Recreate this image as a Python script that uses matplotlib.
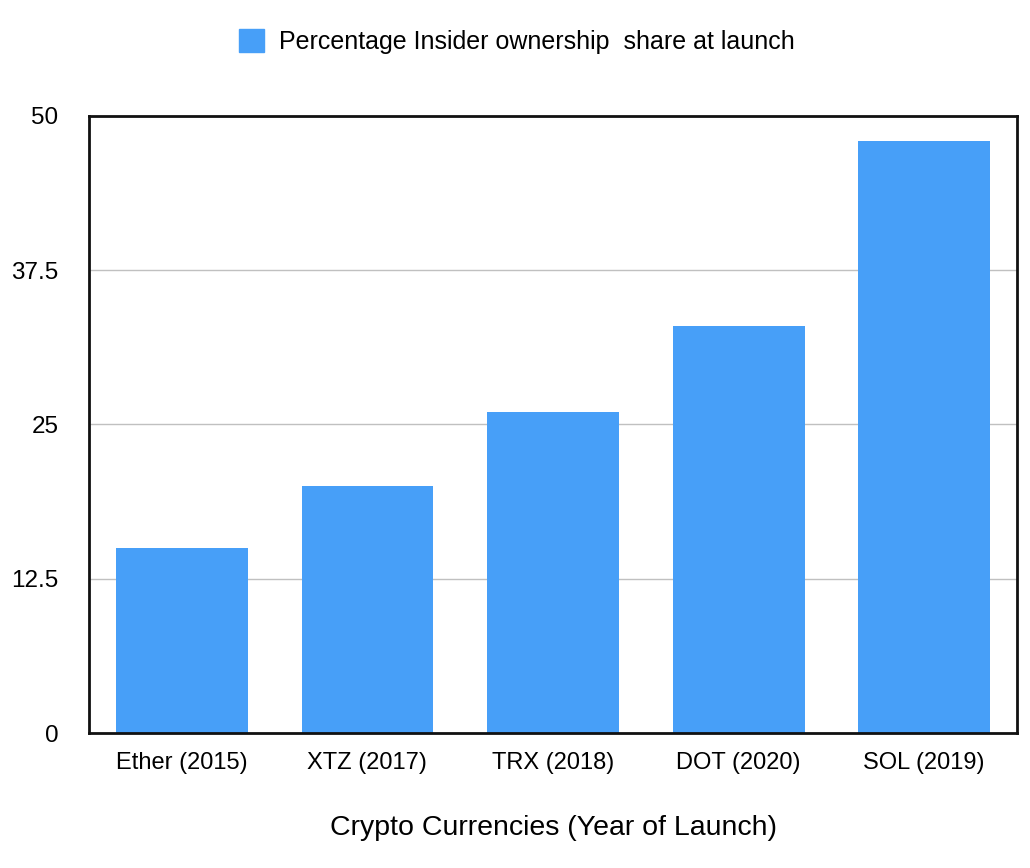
import matplotlib
matplotlib.use("Agg")
import matplotlib.pyplot as plt
from matplotlib.patches import Patch

categories = ["Ether (2015)", "XTZ (2017)", "TRX (2018)", "DOT (2020)", "SOL (2019)"]
values = [15, 20, 26, 33, 48]
yticks = [0, 12.5, 25, 37.5, 50]
ytick_labels = ["0", "12.5", "25", "37.5", "50"]
series_name = "Percentage Insider ownership  share at launch"
xlabel = "Crypto Currencies (Year of Launch)"

plt.rcParams['font.family'] = ['Liberation Sans', 'DejaVu Sans']
color = "#479ff8"

fig = plt.figure(figsize=(10.30, 8.68), dpi=100)
ax = fig.add_axes([0.0864, 0.1555, 0.9010, 0.7109])

x = list(range(len(categories)))
ax.bar(x, values, width=0.71, color=color, zorder=3)
ax.set_xlim(-0.5, len(categories) - 0.5)
ax.set_ylim(0, 50)
ax.set_yticks(yticks)
ax.set_yticklabels(ytick_labels)
ax.set_xticks(x)
ax.set_xticklabels(categories)
ax.tick_params(axis='y', length=0, pad=22, labelsize=17.5)
ax.tick_params(axis='x', length=0, pad=14, labelsize=17)
ax.yaxis.grid(True, color="#c0c0c0", linewidth=1, zorder=0)
for s in ax.spines.values():
    s.set_linewidth(2)
    s.set_color("#111111")
    s.set_zorder(5)
ax.set_xlabel(xlabel, fontsize=20.5, labelpad=29)

fig.legend(handles=[Patch(color=color, label=series_name)], loc="center",
           bbox_to_anchor=(0.502, 0.952), frameon=False, fontsize=18,
           handlelength=1.0, handleheight=1.0, handletextpad=0.6)

fig.savefig("out.png", dpi=100, facecolor="white")
